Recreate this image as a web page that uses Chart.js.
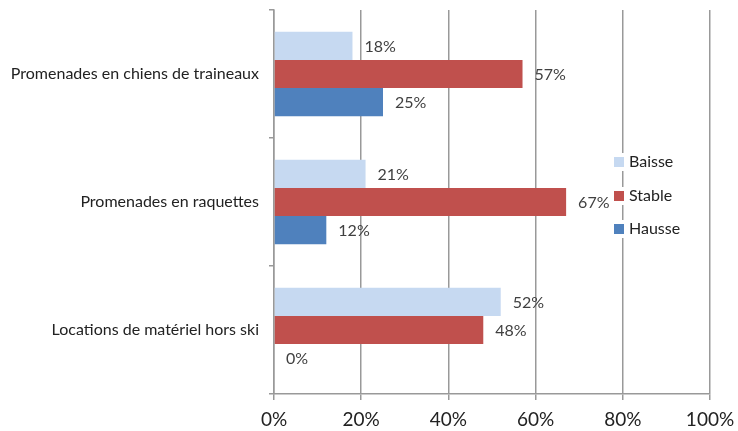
<!DOCTYPE html>
<html>
<head>
<meta charset="utf-8">
<script src="https://cdn.jsdelivr.net/npm/chart.js@4/dist/chart.umd.min.js"></script>
<style>
html,body{margin:0;padding:0;background:#fff;}
#wrap{width:738px;height:431px;position:relative;}
</style>
</head>
<body>
<div id="wrap"><canvas id="c" width="738" height="431"></canvas></div>
<script>
const categories = ["Promenades en chiens de traineaux", "Promenades en raquettes", "Locations de matériel hors ski"];
const baisse = [18, 21, 52];
const stable = [57, 67, 48];
const hausse = [25, 12, 0];
const xTicks = [0, 20, 40, 60, 80, 100];
const seriesNames = ["Baisse", "Stable", "Hausse"];
const seriesColors = ["#C6D9F1", "#C0504D", "#4F81BD"];

const FONT = "Lato, 'Liberation Sans', sans-serif";

const valueLabels = {
  id: 'valueLabels',
  afterDatasetsDraw(chart) {
    const ctx = chart.ctx;
    ctx.save();
    ctx.font = "16px " + FONT;
    ctx.fillStyle = "#404040";
    ctx.textAlign = "left";
    ctx.textBaseline = "middle";
    chart.data.datasets.forEach((ds, di) => {
      const meta = chart.getDatasetMeta(di);
      meta.data.forEach((bar, i) => {
        ctx.fillText(ds.data[i] + "%", bar.x + 12, bar.y + 1);
      });
    });
    ctx.restore();
  }
};

const customLegend = {
  id: 'customLegend',
  afterDraw(chart) {
    const ctx = chart.ctx;
    ctx.save();
    ctx.font = "16px " + FONT;
    ctx.textAlign = "left";
    ctx.textBaseline = "middle";
    const ys = [162, 196, 229];
    chart.data.datasets.forEach((ds, di) => {
      const y = ys[di];
      ctx.fillStyle = "#fff";
      ctx.fillRect(612, y - 9, 74, 18);
      ctx.fillStyle = ds.backgroundColor;
      ctx.fillRect(614, y - 5, 10, 10);
      ctx.fillStyle = "#222";
      ctx.fillText(ds.label, 629, y);
    });
    ctx.restore();
  }
};

new Chart(document.getElementById('c'), {
  type: 'bar',
  data: {
    labels: categories,
    datasets: [
      { label: seriesNames[0], data: baisse, backgroundColor: seriesColors[0] },
      { label: seriesNames[1], data: stable, backgroundColor: seriesColors[1] },
      { label: seriesNames[2], data: hausse, backgroundColor: seriesColors[2] }
    ]
  },
  options: {
    indexAxis: 'y',
    responsive: false,
    animation: false,
    devicePixelRatio: 1,
    layout: { padding: { top: 10, right: 28, left: 0, bottom: 0 } },
    datasets: { bar: { barPercentage: 1.0, categoryPercentage: 0.66 } },
    plugins: { legend: { display: false }, tooltip: { enabled: false } },
    scales: {
      x: {
        min: 0, max: 100,
        afterBuildTicks(s) { s.ticks = xTicks.map(v => ({ value: v })); },
        afterFit(s) { s.height = 37; s.paddingLeft = 0; s.paddingRight = 0; },
        ticks: { callback: v => v + "%", font: { family: FONT, size: 19 }, color: "#222", padding: 8, maxRotation: 0 },
        grid: { color: "#999", lineWidth: 1.5, tickLength: 6, drawTicks: true },
        border: { color: "#999", width: 1.5 }
      },
      y: {
        afterFit(s) { s.width = 274; s.paddingTop = 0; s.paddingBottom = 0; },
        ticks: { font: { family: FONT, size: 16 }, color: "#222", padding: 10 },
        grid: { offset: true, drawOnChartArea: false, color: "#999", lineWidth: 1.5, tickLength: 5 },
        border: { color: "#999", width: 1.5 }
      }
    }
  },
  plugins: [valueLabels, customLegend]
});
</script>
</body>
</html>
